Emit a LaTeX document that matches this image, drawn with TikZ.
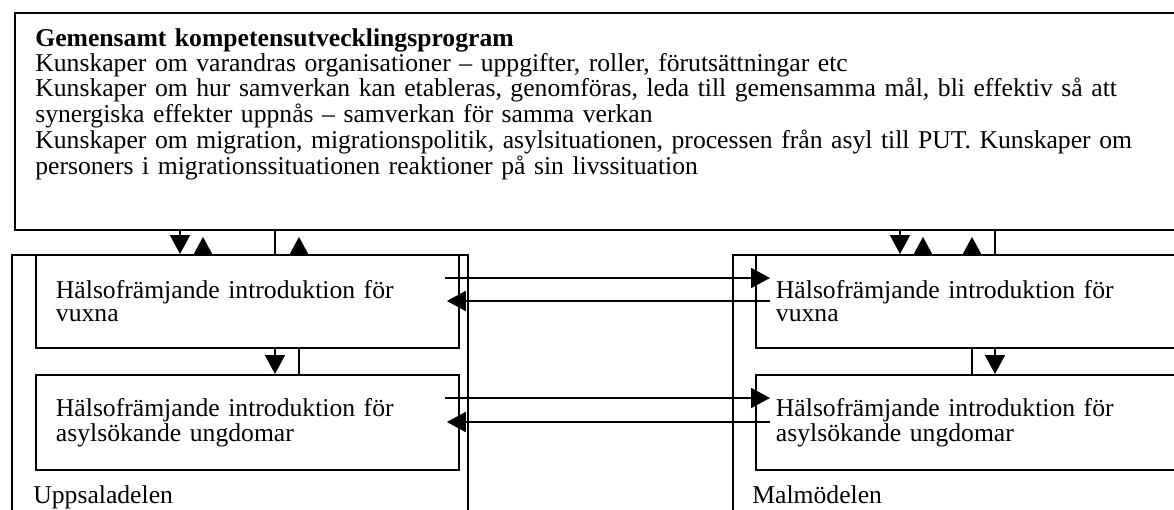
\documentclass[tikz,border=0pt]{standalone}
\usepackage{fontspec}
\setmainfont{Liberation Serif}
\usetikzlibrary{arrows.meta,calc,positioning}
\newcommand{\bodyfont}{\fontsize{14.6}{13.7}\selectfont}
\newcommand{\boxfont}{\fontsize{14.6}{13.2}\selectfont}
\tikzset{
  frame/.style={draw=black, line width=1.1pt, inner sep=0pt, anchor=north west},
  course/.style={
    frame, align=left, inner xsep=0.4cm, font=\boxfont,
    minimum height=1.86cm
  },
  caption/.style={anchor=base west, inner sep=0pt, font=\bodyfont},
  flow/.style={-{Triangle[length=0.38cm,width=0.4cm]}, line width=1.1pt},
  backflow/.style={flow, shorten >=0.12cm},
  link/.style={line width=1.1pt}
}

\begin{document}
\begin{tikzpicture}[x=0.02cm,y=-0.02cm]
    \useasboundingbox (0,0) rectangle (1174,510);
    \node[frame,minimum width=23.6cm,minimum height=4.34cm] (prog) at (14,12) {};
    \node[caption,text width=22.6cm,align=left] (progtext) at (35,47) {\textbf{Gemensamt kompetensutvecklingsprogram}\\
      Kunskaper om varandras organisationer – uppgifter, roller, förutsättningar etc\\
      Kunskaper om hur samverkan kan etableras, genomföras, leda till gemensamma mål, bli effektiv så att\\
      synergiska effekter uppnås – samverkan för samma verkan\\
      Kunskaper om migration, migrationspolitik, asylsituationen, processen från asyl till PUT. Kunskaper om\\
      personers i migrationssituationen reaktioner på sin livssituation};
    \node[frame,minimum width=9.12cm,minimum height=5.6cm] (upp) at (11,254) {};
    \node[course,minimum width=8.46cm,text width=7.66cm] (uvux) at (35,254) {Hälsofrämjande introduktion för\\vuxna};
    \node[course,minimum width=8.46cm,text width=7.66cm,minimum height=1.9cm] (uung) at (35,374) {Hälsofrämjande introduktion för\\asylsökande ungdomar};
    \node[caption] (upptext) at (33,503) {Uppsaladelen};
    \node[frame,minimum width=9.3cm,minimum height=5.6cm] (malm) at (732,254) {};
    \node[course,minimum width=8.8cm,text width=8.0cm] (mvux) at (755,254) {Hälsofrämjande introduktion för\\vuxna};
    \node[course,minimum width=8.8cm,text width=8.0cm,minimum height=1.9cm] (mung) at (755,374) {Hälsofrämjande introduktion för\\asylsökande ungdomar};
    \node[caption] (malmtext) at (752,503) {Malmödelen};
    \draw[flow] (180,0 |- prog.south) -- (180,0 |- upp.north);
    \draw[backflow] (203,0 |- upp.north) -- (203,0 |- prog.south);
    \draw[link] (275,0 |- prog.south) -- (275,0 |- upp.north);
    \draw[backflow] (299,0 |- upp.north) -- (299,0 |- prog.south);
    \draw[flow] (275,0 |- uvux.south) -- (275,0 |- uung.north);
    \draw[link] (299,0 |- uvux.south) -- (299,0 |- uung.north);
    \draw[flow] (900,0 |- prog.south) -- (900,0 |- malm.north);
    \draw[backflow] (923,0 |- malm.north) -- (923,0 |- prog.south);
    \draw[backflow] (972,0 |- malm.north) -- (972,0 |- prog.south);
    \draw[link] (995,0 |- prog.south) -- (995,0 |- malm.north);
    \draw[link] (972,0 |- mvux.south) -- (972,0 |- mung.north);
    \draw[flow] (995,0 |- mvux.south) -- (995,0 |- mung.north);
    \draw[flow] ($(uvux.north east)+(-15,24)$) -- ($(mvux.north west)+(15,24)$);
    \draw[flow] ($(mvux.north west)+(15,47)$) -- ($(uvux.north east)+(-13,47)$);
    \draw[flow] ($(uung.north east)+(-15,24)$) -- ($(mung.north west)+(15,24)$);
    \draw[flow] ($(mung.north west)+(15,48)$) -- ($(uung.north east)+(-13,48)$);
  \end{tikzpicture}
\end{document}
